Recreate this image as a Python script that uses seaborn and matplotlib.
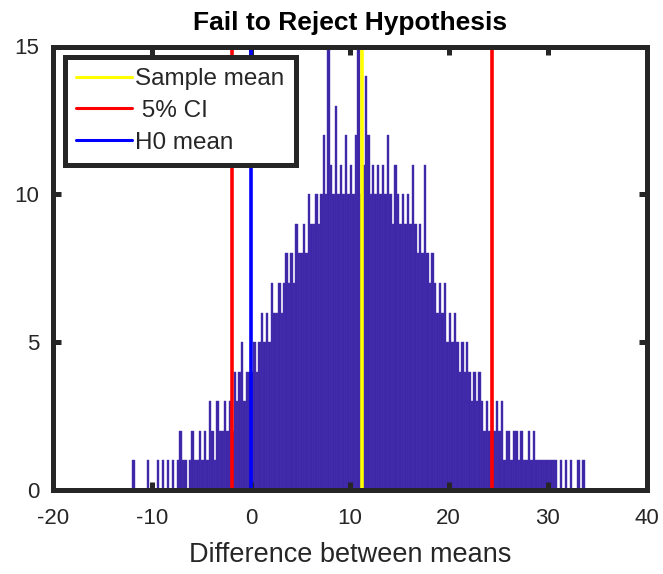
import numpy as np
import pandas as pd
import matplotlib
matplotlib.use("Agg")
import matplotlib.pyplot as plt
import seaborn as sns
from matplotlib.lines import Line2D

# ---- data ----
bin_start = -12.0
bin_width = 0.25
counts = [
    # -12.00 .. -0.25
    1, 0, 0, 0, 0, 0, 1, 0, 0, 0, 1, 0, 1, 0, 1, 0,
    1, 0, 1, 2, 1, 1, 0, 1, 2, 1, 1, 2, 1, 2, 1, 3,
    2, 1, 3, 2, 2, 3, 2, 3, 2, 4, 3, 4, 5, 3, 4, 4,
    # 0.00 .. 11.75
    4, 5, 4, 5, 6, 5, 6, 5, 7, 6, 6, 7, 6, 7, 8, 7,
    8, 7, 9, 8, 8, 9, 8, 10, 9, 9, 10, 9, 10, 12, 10, 15,
    11, 10, 13, 10, 11, 10, 12, 10, 11, 10, 12, 15, 10, 11, 14, 12,
    # 12.00 .. 23.75
    10, 11, 10, 11, 10, 11, 10, 12, 10, 9, 11, 10, 9, 10, 9, 10,
    9, 11, 9, 8, 9, 8, 11, 8, 7, 8, 7, 6, 7, 6, 7, 5,
    6, 5, 6, 5, 4, 5, 4, 5, 4, 3, 4, 3, 4, 3, 2, 3,
    # 24.00 .. 33.75
    2, 3, 2, 3, 2, 3, 1, 2, 2, 1, 2, 2, 1, 2, 1, 1,
    2, 1, 2, 1, 1, 1, 1, 1, 1, 1, 1, 1, 0, 1, 0, 1,
    0, 1, 0, 0, 1, 0, 1, 0,
]
sample_mean = 11.2
ci_low, ci_high = -1.9, 24.4
h0_mean = 0.0
legend_labels = ["Sample mean", " 5% CI", "H0 mean"]
title_text = "Fail to Reject Hypothesis"
xlabel_text = "Difference between means"
x_ticks = [-20, -10, 0, 10, 20, 30, 40]
y_ticks = [0, 5, 10, 15]

n_bins = len(counts)
bin_end = bin_start + bin_width * n_bins
centers = bin_start + bin_width * (np.arange(n_bins) + 0.5)
df = pd.DataFrame({"diff": centers, "count": np.asarray(counts, dtype=float)})

# ---- figure ----
sns.set_style("white")
plt.rcParams["font.family"] = ["Liberation Sans", "DejaVu Sans"]
plt.rcParams["axes.unicode_minus"] = False

fig = plt.figure(figsize=(6.63, 5.74), dpi=100)
ax = fig.add_axes([53 / 663, 1 - 490 / 574, (646.5 - 53) / 663, (490 - 46.5) / 574])

bar_color = "#3E26A8"
sns.histplot(data=df, x="diff", weights="count", binwidth=bin_width,
             binrange=(bin_start, bin_end), ax=ax,
             color=bar_color, alpha=1.0, edgecolor="#4a36ae", linewidth=0.3,
             zorder=1)

lw = 2.6
ax.axvline(sample_mean, color="#FFFF00", lw=lw, zorder=3)
ax.axvline(ci_low, color="#FF0000", lw=lw, zorder=3)
ax.axvline(ci_high, color="#FF0000", lw=lw, zorder=3)
ax.axvline(h0_mean, color="#0000FF", lw=lw, zorder=3)

ax.set_xlim(-20, 40)
ax.set_ylim(0, 15)
ax.set_xticks(x_ticks)
ax.set_yticks(y_ticks)
ax.set_ylabel("")
ax.set_xlabel(xlabel_text, fontsize=19.5, color="#262626", labelpad=9)
ax.set_title(title_text, fontsize=19, fontweight="bold", color="black", pad=12)

spine_c = "#262626"
for s in ax.spines.values():
    s.set_visible(True)
    s.set_linewidth(3.6)
    s.set_color(spine_c)
    s.set_zorder(5)
ax.tick_params(axis="both", which="major", direction="in", length=6, width=3.6,
               color=spine_c, top=True, right=True, bottom=True, left=True,
               labelsize=16, labelcolor="#262626")
ax.tick_params(axis="x", pad=13)
ax.tick_params(axis="y", pad=10)
ax.set_axisbelow(False)

handles = [Line2D([0], [0], color="#FFFF00", lw=2.2),
           Line2D([0], [0], color="#FF0000", lw=2.2),
           Line2D([0], [0], color="#0000FF", lw=2.2)]
leg = ax.legend(handles, legend_labels, loc="upper left",
                bbox_to_anchor=(0.02, 0.976), borderaxespad=0,
                fontsize=17.5, frameon=True, fancybox=False, framealpha=1,
                handlelength=2.3, handletextpad=0.15, labelspacing=0.4,
                borderpad=0.45)
leg.get_frame().set_edgecolor(spine_c)
leg.get_frame().set_linewidth(3.6)
for t in leg.get_texts():
    t.set_color("#262626")
leg.set_zorder(6)

fig.savefig("out.png", dpi=100, facecolor="white")
